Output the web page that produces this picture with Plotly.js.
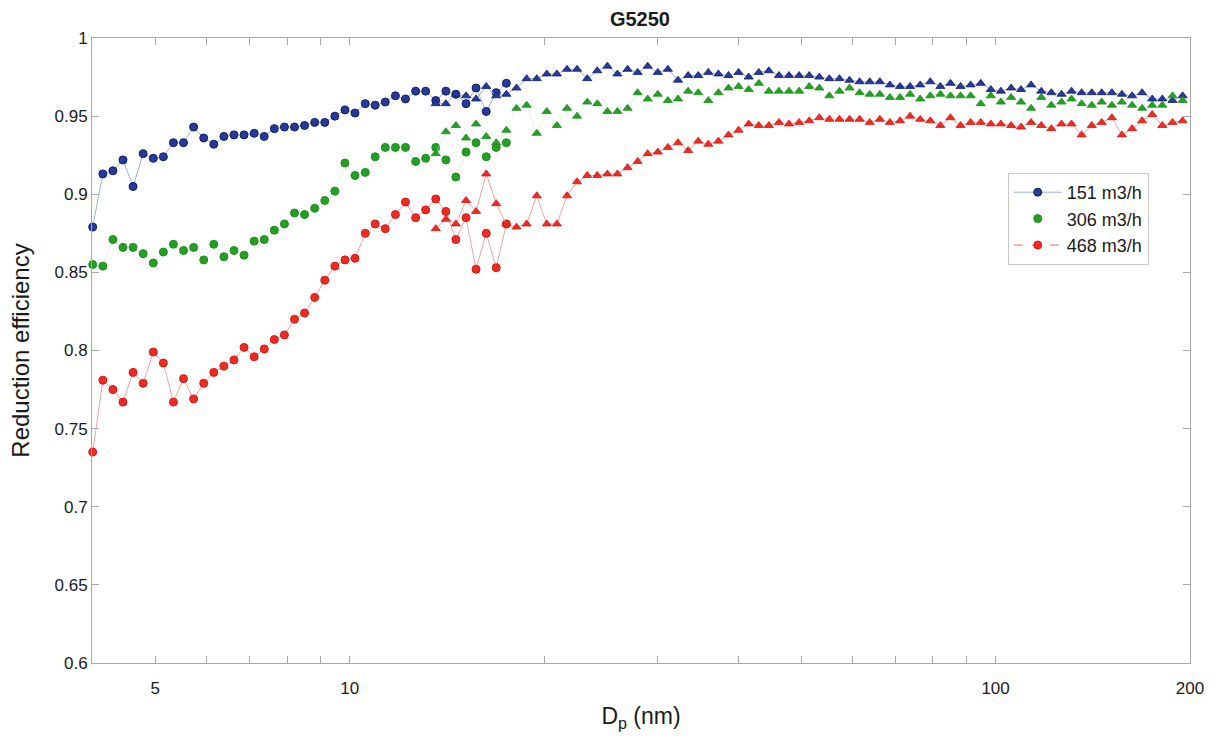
<!DOCTYPE html>
<html>
<head>
<meta charset="utf-8">
<script src="https://cdn.plot.ly/plotly-3.0.1.min.js"></script>
<style>
  html, body { margin: 0; padding: 0; background: #ffffff; }
  #chart { width: 1222px; height: 740px; }
</style>
</head>
<body>
<div id="chart"></div>
<script>
// Particle diameters (nm): nano-DMA channels (circles) and long-DMA channels (triangles)
const dpCircle = [
  4.000, 4.147, 4.299, 4.456, 4.619, 4.788, 4.964, 5.146, 5.334, 5.529,
  5.732, 5.942, 6.159, 6.385, 6.619, 6.861, 7.113, 7.373, 7.643, 7.923,
  8.213, 8.514, 8.826, 9.149, 9.484, 9.832, 10.19, 10.57, 10.95, 11.35,
  11.77, 12.20, 12.65, 13.11, 13.59, 14.09, 14.60, 15.14, 15.69, 16.27,
  16.86, 17.48
];
const dpTriangle = [
  13.59, 14.09, 14.60, 15.14, 15.69, 16.27, 16.86, 17.48,
  18.12, 18.79, 19.48, 20.19, 20.93, 21.70, 22.49, 23.32, 24.17, 25.06,
  25.97, 26.93, 27.91, 28.93, 29.99, 31.09, 32.23, 33.42, 34.64, 35.91,
  37.23, 38.59, 40.00, 41.47, 42.99, 44.56, 46.19, 47.88, 49.64, 51.46,
  53.34, 55.29, 57.32, 59.42, 61.59, 63.85, 66.19, 68.61, 71.13, 73.73,
  76.43, 79.23, 82.13, 85.14, 88.26, 91.49, 94.84, 98.32, 101.9, 105.7,
  109.5, 113.5, 117.7, 122.0, 126.5, 131.1, 135.9, 140.9, 146.0, 151.4,
  156.9, 162.7, 168.6, 174.8, 181.2, 187.9, 194.8
];

// Reduction efficiency, 151 m3/h
const eff151Circle = [
  0.879, 0.913, 0.915, 0.922, 0.905, 0.926, 0.923, 0.924, 0.933, 0.933,
  0.943, 0.936, 0.932, 0.937, 0.938, 0.938, 0.939, 0.937, 0.942, 0.943,
  0.943, 0.944, 0.946, 0.946, 0.950, 0.954, 0.952, 0.958, 0.957, 0.959,
  0.963, 0.961, 0.966, 0.966, 0.960, 0.966, 0.964, 0.958, 0.968, 0.953,
  0.965, 0.971
];
const eff151Triangle = [
  0.958, 0.958, 0.964, 0.963, 0.961, 0.969, 0.963, 0.964,
  0.968, 0.974, 0.974, 0.977, 0.977, 0.980, 0.980, 0.974, 0.979, 0.982,
  0.977, 0.980, 0.978, 0.982, 0.978, 0.980, 0.973, 0.976, 0.976, 0.978,
  0.977, 0.976, 0.978, 0.975, 0.978, 0.979, 0.976, 0.976, 0.976, 0.976,
  0.975, 0.974, 0.974, 0.973, 0.972, 0.972, 0.972, 0.970, 0.969, 0.969,
  0.970, 0.972, 0.969, 0.971, 0.969, 0.970, 0.971, 0.967, 0.966, 0.968,
  0.967, 0.970, 0.966, 0.965, 0.964, 0.966, 0.965, 0.965, 0.965, 0.965,
  0.964, 0.963, 0.965, 0.961, 0.961, 0.960, 0.963
];

// Reduction efficiency, 306 m3/h
const eff306Circle = [
  0.855, 0.854, 0.871, 0.866, 0.866, 0.862, 0.856, 0.863, 0.868, 0.864,
  0.866, 0.858, 0.868, 0.860, 0.864, 0.861, 0.870, 0.871, 0.877, 0.881,
  0.888, 0.887, 0.891, 0.896, 0.902, 0.920, 0.912, 0.914, 0.924, 0.930,
  0.930, 0.930, 0.921, 0.923, 0.930, 0.922, 0.911, 0.927, 0.933, 0.924,
  0.930, 0.933
];
const eff306Triangle = [
  0.926, 0.940, 0.944, 0.936, 0.945, 0.937, 0.933, 0.941,
  0.955, 0.957, 0.939, 0.953, 0.944, 0.955, 0.950, 0.959, 0.958, 0.953,
  0.953, 0.955, 0.965, 0.961, 0.964, 0.960, 0.961, 0.966, 0.965, 0.960,
  0.965, 0.968, 0.969, 0.967, 0.971, 0.966, 0.966, 0.966, 0.966, 0.969,
  0.968, 0.963, 0.966, 0.968, 0.965, 0.964, 0.964, 0.962, 0.962, 0.964,
  0.961, 0.963, 0.964, 0.963, 0.963, 0.963, 0.958, 0.963, 0.959, 0.962,
  0.959, 0.955, 0.962, 0.957, 0.959, 0.961, 0.958, 0.957, 0.959, 0.957,
  0.959, 0.957, 0.955, 0.957, 0.957, 0.963, 0.960
];

// Reduction efficiency, 468 m3/h
const eff468Circle = [
  0.735, 0.781, 0.775, 0.767, 0.786, 0.779, 0.799, 0.792, 0.767, 0.782,
  0.769, 0.779, 0.786, 0.790, 0.794, 0.802, 0.796, 0.801, 0.807, 0.810,
  0.820, 0.824, 0.834, 0.845, 0.854, 0.858, 0.859, 0.875, 0.881, 0.878,
  0.887, 0.895, 0.885, 0.890, 0.897, 0.889, 0.871, 0.885, 0.852, 0.875,
  0.853, 0.881
];
const eff468Triangle = [
  0.878, 0.884, 0.881, 0.896, 0.889, 0.913, 0.894, 0.881,
  0.879, 0.881, 0.899, 0.881, 0.881, 0.899, 0.908, 0.912, 0.912, 0.913,
  0.913, 0.917, 0.921, 0.926, 0.927, 0.930, 0.933, 0.928, 0.934, 0.932,
  0.934, 0.938, 0.941, 0.945, 0.944, 0.944, 0.946, 0.945, 0.946, 0.947,
  0.949, 0.948, 0.948, 0.948, 0.948, 0.946, 0.948, 0.946, 0.947, 0.950,
  0.948, 0.947, 0.944, 0.949, 0.944, 0.946, 0.946, 0.945, 0.945, 0.944,
  0.943, 0.946, 0.944, 0.942, 0.945, 0.945, 0.938, 0.944, 0.946, 0.949,
  0.938, 0.942, 0.947, 0.951, 0.944, 0.946, 0.947
];

const seriesNames = ['151 m3/h', '306 m3/h', '468 m3/h'];
const xMajorTicks = [5, 10, 100, 200];
const xMinorTicks = [6, 7, 8, 9, 20, 30, 40, 50, 60, 70, 80, 90];

const FONT = 'Liberation Sans, Arial, Helvetica, sans-serif';
const TEXT = '#1a1a1a';

const styles = [
  { fill: '#26399c', edge: '#0f1d6b', line: '#9fb0e0', lineWidth: 1 },
  { fill: '#23a023', edge: '#1c8f1c', line: '#d3ecd3', lineWidth: 0.6 },
  { fill: '#f02a22', edge: '#d61a14', line: '#f3a5a2', lineWidth: 1 }
];

const circleSets = [eff151Circle, eff306Circle, eff468Circle];
const triangleSets = [eff151Triangle, eff306Triangle, eff468Triangle];

const traces = [];
for (let s = 0; s < 3; s++) {
  const st = styles[s];
  traces.push({
    type: 'scatter', mode: 'lines+markers', x: dpCircle, y: circleSets[s],
    line: { color: st.line, width: st.lineWidth },
    marker: { symbol: 'circle', size: 8, color: st.fill, line: { color: st.edge, width: 1 } },
    cliponaxis: false, showlegend: false, hoverinfo: 'x+y'
  });
  traces.push({
    type: 'scatter', mode: 'lines+markers', x: dpTriangle, y: triangleSets[s],
    line: { color: st.line, width: st.lineWidth },
    marker: { symbol: 'triangle-up', size: 8, color: st.fill, line: { color: st.edge, width: 0.8 } },
    cliponaxis: false, showlegend: false, hoverinfo: 'x+y'
  });
}

// Legend entries
traces.push({
  type: 'scatter', mode: 'lines+markers', x: [null], y: [null], name: seriesNames[0],
  line: { color: '#9fb0e0', width: 1 },
  marker: { symbol: 'circle', size: 8, color: styles[0].fill, line: { color: styles[0].edge, width: 1 } }
});
traces.push({
  type: 'scatter', mode: 'markers', x: [null], y: [null], name: seriesNames[1],
  marker: { symbol: 'circle', size: 8, color: styles[1].fill, line: { color: styles[1].edge, width: 1 } }
});
traces.push({
  type: 'scatter', mode: 'lines+markers', x: [null], y: [null], name: seriesNames[2],
  line: { color: '#f06a66', width: 1, dash: 'dash' },
  marker: { symbol: 'circle', size: 8, color: styles[2].fill, line: { color: styles[2].edge, width: 1 } }
});

const axisColor = '#a8a8a8';
const layout = {
  width: 1222, height: 740,
  margin: { l: 92, r: 32, t: 38, b: 77, pad: 0 },
  paper_bgcolor: '#ffffff', plot_bgcolor: '#ffffff',
  font: { family: FONT, size: 17, color: TEXT },
  title: {
    text: '<b>G5250</b>', font: { family: FONT, size: 20, color: TEXT },
    x: 0.5237, xanchor: 'center', xref: 'container',
    y: 0.975, yanchor: 'middle', yref: 'container'
  },
  xaxis: {
    type: 'log', range: [Math.log10(3.99), Math.log10(200)],
    tickmode: 'array', tickvals: xMajorTicks, ticktext: xMajorTicks.map(String),
    ticks: 'inside', ticklen: 7, tickwidth: 1, tickcolor: axisColor,
    minor: { tickmode: 'array', tickvals: xMinorTicks, ticks: 'inside', ticklen: 7, tickwidth: 1, tickcolor: axisColor, showgrid: false },
    ticklabelstandoff: 10,
    showline: true, linecolor: axisColor, linewidth: 1, mirror: 'ticks',
    showgrid: false, zeroline: false,
    tickfont: { family: FONT, size: 17, color: TEXT },
    title: { text: 'D<sub>p</sub> (nm)', font: { family: FONT, size: 23, color: TEXT }, standoff: 10 }
  },
  yaxis: {
    range: [0.6, 1], tickmode: 'linear', tick0: 0.6, dtick: 0.05,
    ticks: 'inside', ticklen: 7, tickwidth: 1, tickcolor: axisColor,
    showline: true, linecolor: axisColor, linewidth: 1, mirror: 'ticks',
    showgrid: false, zeroline: false,
    tickfont: { family: FONT, size: 17, color: TEXT },
    title: { text: 'Reduction efficiency', font: { family: FONT, size: 24, color: TEXT }, standoff: 18 }
  },
  legend: {
    x: 0.834, y: 0.784, xanchor: 'left', yanchor: 'top',
    bgcolor: '#ffffff', bordercolor: '#c8c8c8', borderwidth: 1,
    font: { family: FONT, size: 18, color: TEXT },
    itemwidth: 48, tracegroupgap: 0
  },
  showlegend: true
};

Plotly.newPlot('chart', traces, layout, { displayModeBar: false, staticPlot: true });
</script>
</body>
</html>
